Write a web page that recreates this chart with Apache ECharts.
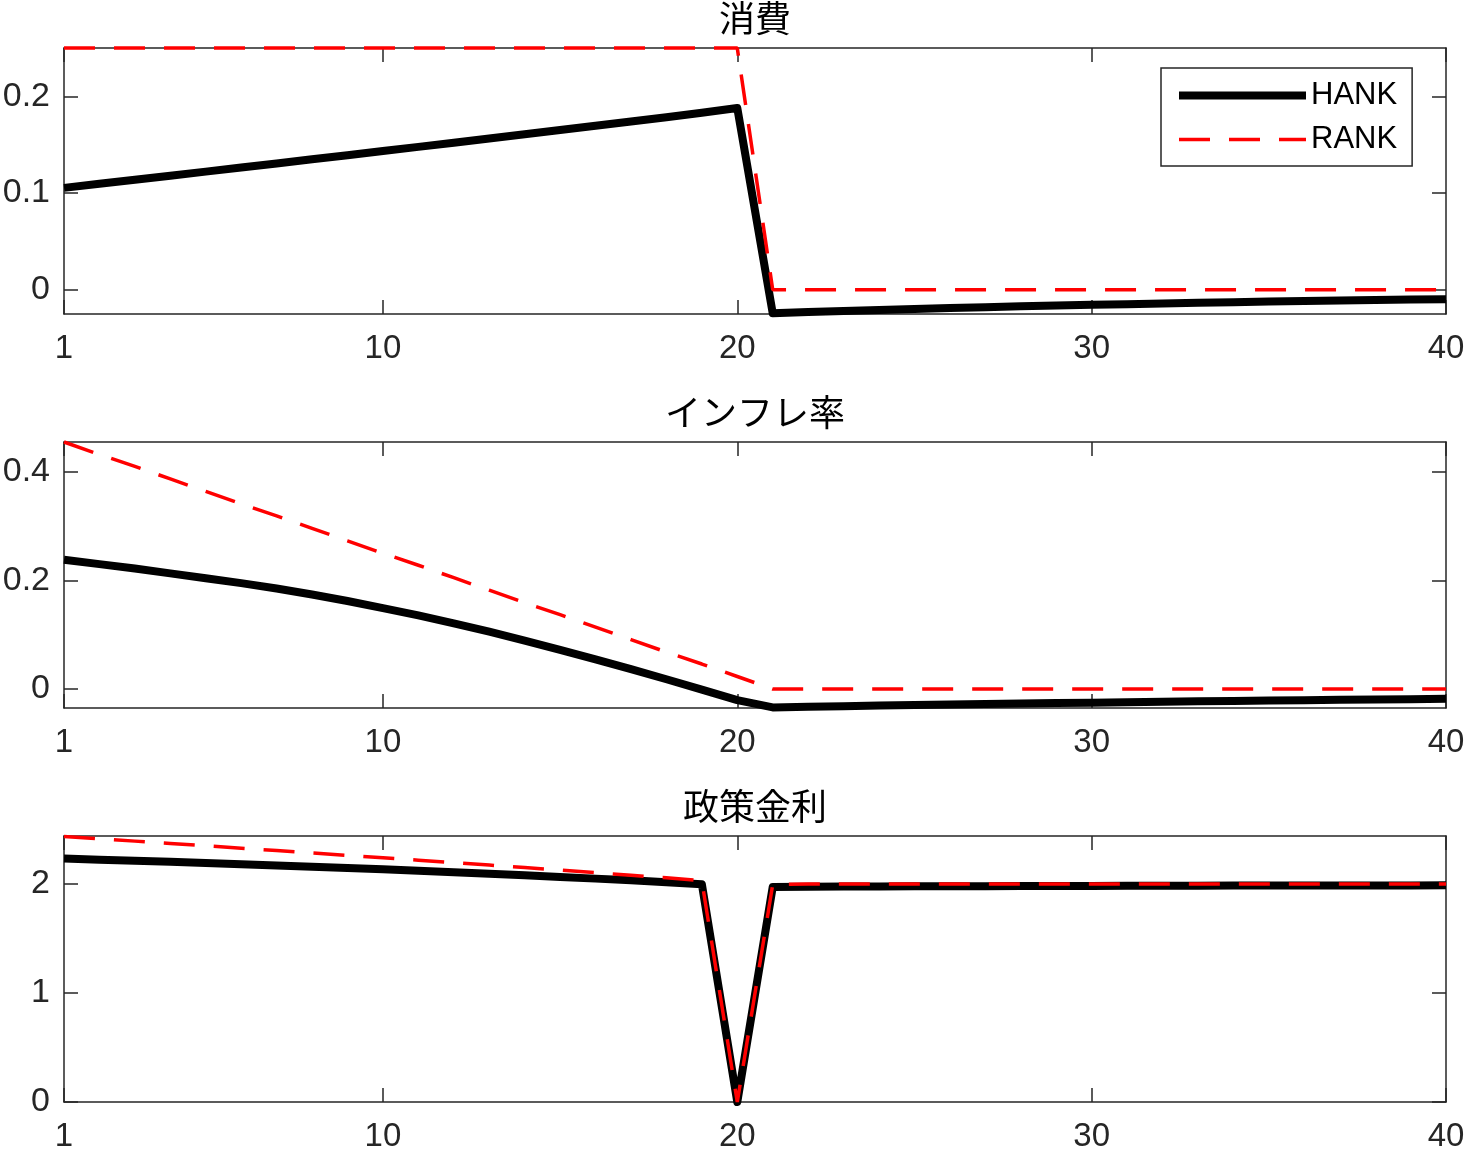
<!DOCTYPE html>
<html>
<head>
<meta charset="utf-8">
<script src="https://cdn.jsdelivr.net/npm/echarts@6/dist/echarts.min.js"></script>
<style>
html, body { margin: 0; padding: 0; background: #fff; }
#chart { width: 1467px; height: 1150px; }
</style>
</head>
<body>
<div id="chart"></div>
<script>
// data
var periods = [1, 2, 3, 4, 5, 6, 7, 8, 9, 10,
    11, 12, 13, 14, 15, 16, 17, 18, 19, 20,
    21, 22, 23, 24, 25, 26, 27, 28, 29, 30,
    31, 32, 33, 34, 35, 36, 37, 38, 39, 40];

var consHank = [0.1054, 0.1096, 0.1138, 0.1180, 0.1222, 0.1264, 0.1306, 0.1349, 0.1392, 0.1435,
    0.1478, 0.1521, 0.1564, 0.1608, 0.1652, 0.1696, 0.1740, 0.1785, 0.1830, 0.1880,
    -0.0242, -0.0229, -0.0219, -0.0208, -0.0198, -0.0189, -0.0180, -0.0171, -0.0163, -0.0155,
    -0.0148, -0.0141, -0.0134, -0.0128, -0.0122, -0.0116, -0.0111, -0.0106, -0.0101, -0.0097];
var consRank = [0.25, 0.25, 0.25, 0.25, 0.25, 0.25, 0.25, 0.25, 0.25, 0.25,
    0.25, 0.25, 0.25, 0.25, 0.25, 0.25, 0.25, 0.25, 0.25, 0.25,
    0, 0, 0, 0, 0, 0, 0, 0, 0, 0,
    0, 0, 0, 0, 0, 0, 0, 0, 0, 0];

var inflHank = [0.238, 0.230, 0.222, 0.213, 0.204, 0.195, 0.185, 0.174, 0.162, 0.149,
    0.1355, 0.121, 0.1055, 0.089, 0.072, 0.0545, 0.0365, 0.018, -0.001, -0.0205,
    -0.034, -0.0328, -0.0317, -0.0306, -0.0296, -0.0286, -0.0277, -0.0268, -0.0259, -0.0251,
    -0.0243, -0.0235, -0.0227, -0.0220, -0.0213, -0.0206, -0.0199, -0.0193, -0.0187, -0.0181];
var inflRank = [0.455, 0.432, 0.410, 0.387, 0.364, 0.341, 0.319, 0.296, 0.273, 0.250,
    0.228, 0.205, 0.182, 0.159, 0.137, 0.114, 0.091, 0.068, 0.046, 0.023,
    0, 0, 0, 0, 0, 0, 0, 0, 0, 0,
    0, 0, 0, 0, 0, 0, 0, 0, 0, 0];

var rateHank = [2.233, 2.223, 2.213, 2.203, 2.192, 2.181, 2.170, 2.158, 2.146, 2.134,
    2.121, 2.108, 2.094, 2.080, 2.065, 2.049, 2.033, 2.016, 1.998, 0,
    1.972, 1.974, 1.976, 1.977, 1.978, 1.979, 1.980, 1.981, 1.982, 1.982,
    1.983, 1.984, 1.984, 1.985, 1.985, 1.986, 1.986, 1.987, 1.987, 1.988];
var rateRank = [2.435, 2.414, 2.393, 2.372, 2.350, 2.328, 2.306, 2.284, 2.262, 2.240,
    2.218, 2.196, 2.173, 2.150, 2.127, 2.104, 2.080, 2.056, 2.030, 0,
    1.995, 2.0, 2.0, 2.0, 2.0, 2.0, 2.0, 2.0, 2.0, 2.0,
    2.0, 2.0, 2.0, 2.0, 2.0, 2.0, 2.0, 2.0, 2.0, 2.0];

var xTicks = [1, 10, 20, 30, 40];
var consTicks = [0, 0.1, 0.2];
var inflTicks = [0, 0.2, 0.4];
var rateTicks = [0, 1, 2];
var consRange = [-0.025, 0.25];
var inflRange = [-0.035, 0.455];
var rateRange = [0, 2.44];
var titles = ['消費', 'インフレ率', '政策金利'];
var names = ['HANK', 'RANK'];

// layout
var gridTops = [48, 442, 836];
var gridH = 266;
var gridL = 64;
var gridR = 21;
var axisColor = '#262626';
var labelFont = 'Liberation Sans, Arial, Helvetica, sans-serif';

var dom = document.getElementById('chart');
var myChart = echarts.init(dom, null, { renderer: 'canvas' });

function pairs(vals) {
    return periods.map(function (t, i) { return [t, vals[i]]; });
}

var panels = [
    { hank: consHank, rank: consRank, ticks: consTicks, range: consRange },
    { hank: inflHank, rank: inflRank, ticks: inflTicks, range: inflRange },
    { hank: rateHank, rank: rateRank, ticks: rateTicks, range: rateRange }
];

var grid = [], xAxis = [], yAxis = [], series = [], title = [];

panels.forEach(function (p, i) {
    grid.push({
        left: gridL, right: gridR, top: gridTops[i], height: gridH,
        outerBoundsMode: 'none', containLabel: false
    });

    title.push({
        text: titles[i],
        left: gridL + (1467 - gridL - gridR) / 2,
        top: gridTops[i] - 48,
        textAlign: 'center',
        padding: 0,
        textStyle: {
            fontFamily: 'Noto Sans CJK JP', fontSize: 36,
            fontWeight: 'normal', color: '#000'
        }
    });

    var tickStyle = { show: true, inside: true, length: 14, lineStyle: { color: axisColor, width: 1.5 } };
    var lineStyle = { show: true, onZero: false, lineStyle: { color: axisColor, width: 1.5 } };

    // bottom + top
    xAxis.push({
        type: 'value', gridIndex: i, min: 1, max: 40, position: 'bottom',
        axisLine: lineStyle,
        axisTick: Object.assign({ customValues: xTicks }, tickStyle),
        axisLabel: {
            customValues: xTicks, margin: 18, color: axisColor,
            fontFamily: labelFont, fontSize: 33
        },
        splitLine: { show: false }
    });
    xAxis.push({
        type: 'value', gridIndex: i, min: 1, max: 40, position: 'top',
        axisLine: lineStyle,
        axisTick: Object.assign({ customValues: xTicks }, tickStyle),
        axisLabel: { show: false },
        splitLine: { show: false }
    });
    // left + right
    yAxis.push({
        type: 'value', gridIndex: i, min: p.range[0], max: p.range[1], position: 'left',
        axisLine: lineStyle,
        axisTick: Object.assign({ customValues: p.ticks }, tickStyle),
        axisLabel: {
            customValues: p.ticks, margin: 14, color: axisColor,
            fontFamily: labelFont, fontSize: 34
        },
        splitLine: { show: false }
    });
    yAxis.push({
        type: 'value', gridIndex: i, min: p.range[0], max: p.range[1], position: 'right',
        axisLine: lineStyle,
        axisTick: Object.assign({ customValues: p.ticks }, tickStyle),
        axisLabel: { show: false },
        splitLine: { show: false }
    });

    series.push({
        name: names[0], type: 'line', xAxisIndex: i * 2, yAxisIndex: i * 2,
        data: pairs(p.hank), symbol: 'none', clip: false, animation: false,
        lineStyle: { color: '#000', width: 8, join: 'round' },
        itemStyle: { color: '#000' }
    });
    series.push({
        name: names[1], type: 'line', xAxisIndex: i * 2, yAxisIndex: i * 2,
        data: pairs(p.rank), symbol: 'none', clip: false, animation: false,
        lineStyle: { color: '#ff0000', width: 3.5, type: [31, 19] },
        itemStyle: { color: '#ff0000' }
    });
});

var option = {
    backgroundColor: '#fff',
    animation: false,
    title: title,
    grid: grid,
    xAxis: xAxis,
    yAxis: yAxis,
    legend: {
        orient: 'vertical',
        left: 1161, top: 68,
        padding: [12, 15, 11, 14],
        itemWidth: 127, itemHeight: 30, itemGap: 13,
        selectedMode: false,
        borderColor: axisColor, borderWidth: 1.5,
        backgroundColor: '#fff',
        itemStyle: { opacity: 0 },
        textStyle: {
            fontFamily: labelFont, fontSize: 31, color: '#000'
        },
        data: [
            { name: names[0], lineStyle: { width: 8 } },
            { name: names[1], lineStyle: { width: 3.5 } }
        ]
    },
    series: series
};

if (option && typeof option === 'object') {
    myChart.setOption(option);
}

window.addEventListener('resize', myChart.resize);
</script>
</body>
</html>
